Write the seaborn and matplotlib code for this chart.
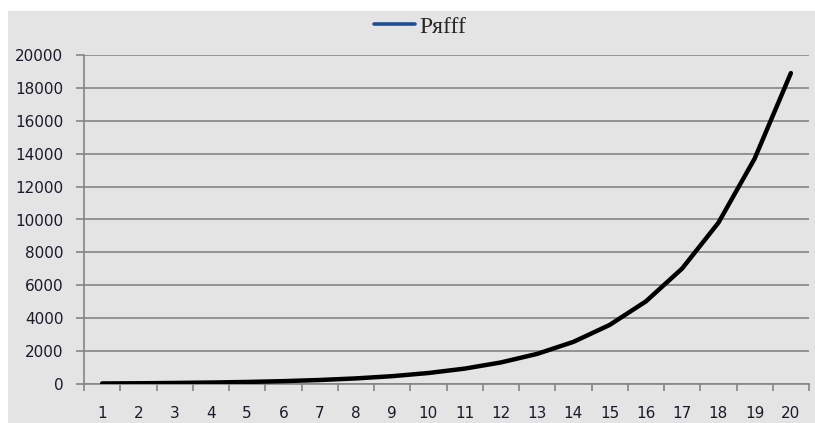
import matplotlib
matplotlib.use("Agg")
import matplotlib.pyplot as plt
import seaborn as sns
import pandas as pd
import numpy as np
from matplotlib.lines import Line2D
from matplotlib.patches import Rectangle
from matplotlib.ticker import FixedLocator

categories = [str(i) for i in range(1, 21)]
values = [32, 45, 63, 89, 124, 174, 243, 340, 476, 668,
          935, 1310, 1830, 2560, 3590, 5020, 7020, 9800, 13700, 18900]
series_name = "Pяfff"
y_ticks = [0, 2000, 4000, 6000, 8000, 10000, 12000, 14000, 16000, 18000, 20000]

df = pd.DataFrame({"cat": categories, "val": values})

sns.set_theme(style="white")
plt.rcParams['font.family'] = ['DejaVu Sans']

W, H = 815, 423
fig = plt.figure(figsize=(W / 100, H / 100), dpi=100, facecolor="white")
bg = "#e4e4e4"
fig.add_artist(Rectangle((8 / W, 0), 1 - 8 / W, 1 - 11 / H, transform=fig.transFigure,
                         facecolor=bg, edgecolor="none", zorder=-10))

ax = fig.add_axes([84 / W, 1 - 384 / H, (809 - 84) / W, (384 - 55) / H])
ax.set_facecolor(bg)

sns.lineplot(data=df, x="cat", y="val", ax=ax, color="black", linewidth=3.2,
             sort=False, legend=False, zorder=3)

n = len(categories)
ax.set_xlim(-0.5, n - 0.5)
ax.set_ylim(0, 20000)
ax.set_yticks(y_ticks)
ax.set_yticklabels([str(t) for t in y_ticks])
ax.set_xticks(range(n))
ax.set_xticklabels(categories)
ax.xaxis.set_minor_locator(FixedLocator(np.arange(-0.5, n, 1.0)))

grid_c = "#858585"
ax.yaxis.grid(True, color=grid_c, linewidth=1.2)
ax.xaxis.grid(False)
ax.set_axisbelow(True)
for s in ["top", "right"]:
    ax.spines[s].set_visible(False)
for s in ["left", "bottom"]:
    ax.spines[s].set_color(grid_c)
    ax.spines[s].set_linewidth(1.2)

label_c = "#1a1a2a"
ax.tick_params(axis="y", which="major", direction="out", length=5.8, width=1.2,
               color=grid_c, pad=9, labelsize=11, labelcolor=label_c, left=True)
ax.tick_params(axis="x", which="major", length=0, pad=16, labelsize=11,
               labelcolor=label_c, bottom=True)
ax.tick_params(axis="x", which="minor", direction="out", length=5, width=1.2,
               color=grid_c, bottom=True)
ax.set_xlabel("")
ax.set_ylabel("")

handle = Line2D([], [], color="#1f4e96", linewidth=2.6)
fig.legend([handle], [series_name], loc="center", bbox_to_anchor=(420 / W, 1 - 27 / H),
           frameon=False, handlelength=1.75, handletextpad=0.15,
           prop={"family": ["Liberation Serif", "DejaVu Serif"], "size": 17})

fig.savefig("out.png", dpi=100, facecolor="white")
